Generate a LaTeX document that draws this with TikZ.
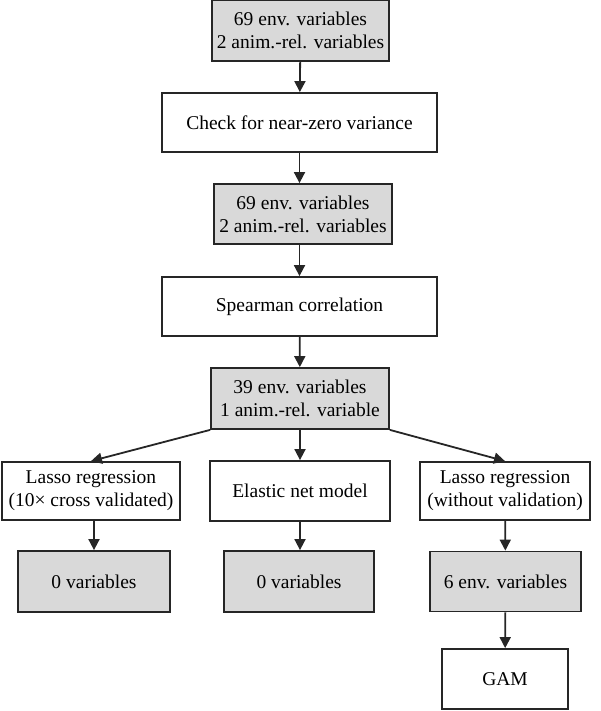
\documentclass[tikz,border=0pt]{standalone}
\usepackage{fontspec}
\setmainfont{Liberation Serif}
\usepackage{xcolor}
\usetikzlibrary{arrows.meta}
\definecolor{FlowGrey}{HTML}{D9D9D9}
\definecolor{FlowLine}{HTML}{262626}

\begin{document}
\begin{tikzpicture}[x=1pt,y=-1pt,
  box/.style={draw=FlowLine,line width=1.8pt,align=center,inner sep=0pt,
    font=\fontsize{19.5}{23}\selectfont},
  greybox/.style={box,fill=FlowGrey},
  flow/.style={draw=FlowLine,line width=1.8pt,-{Triangle[length=11pt,width=11pt]}}]
\path[use as bounding box] (0,0) rectangle (600,711);
\node[greybox,minimum width=177pt,minimum height=61pt] (start) at (300.5,30.5) {69 env. variables\\2 anim.-rel. variables};
\node[box,minimum width=275pt,minimum height=59pt] (nzv) at (299.5,122.5) {Check for near-zero variance};
\node[greybox,minimum width=178pt,minimum height=60pt] (afternzv) at (303,214) {69 env. variables\\2 anim.-rel. variables};
\node[box,minimum width=275pt,minimum height=59pt] (spear) at (299.5,306.5) {Spearman correlation};
\node[greybox,minimum width=178pt,minimum height=61pt] (afterspear) at (300,398.5) {39 env. variables\\1 anim.-rel. variable};
\node[box,minimum width=178pt,minimum height=58pt] (lassocv) at (91,491) {Lasso regression\\(10× cross validated)};
\node[box,minimum width=180pt,minimum height=60pt] (elastic) at (300,491) {Elastic net model};
\node[box,minimum width=170pt,minimum height=58pt] (lassonv) at (505,491) {Lasso regression\\(without validation)};
\node[greybox,minimum width=152pt,minimum height=61pt] (zeroa) at (94,581.5) {0 variables};
\node[greybox,minimum width=150pt,minimum height=61pt] (zerob) at (299,581.5) {0 variables};
\node[greybox,minimum width=151pt,minimum height=60pt] (sixenv) at (505.5,581.5) {6 env. variables};
\node[box,minimum width=126pt,minimum height=60pt] (gam) at (505,679) {GAM};
% main column
\draw[flow] (start) -- (nzv);
\draw[flow] (nzv) -- (afternzv.north -| nzv);
\draw[flow] (afternzv.south -| nzv) -- (spear);
\draw[flow] (spear) -- (afterspear);
% three methods
\draw[flow] (afterspear.south west) -- (lassocv.north);
\draw[flow] (afterspear) -- (elastic);
\draw[flow] (afterspear.south east) -- (lassonv.north);
\draw[flow] (lassocv.south -| zeroa) -- (zeroa);
\draw[flow] (elastic) -- (zerob.north -| elastic);
\draw[flow] (lassonv) -- (sixenv);
\draw[flow] (sixenv) -- (gam);
\end{tikzpicture}
\end{document}
